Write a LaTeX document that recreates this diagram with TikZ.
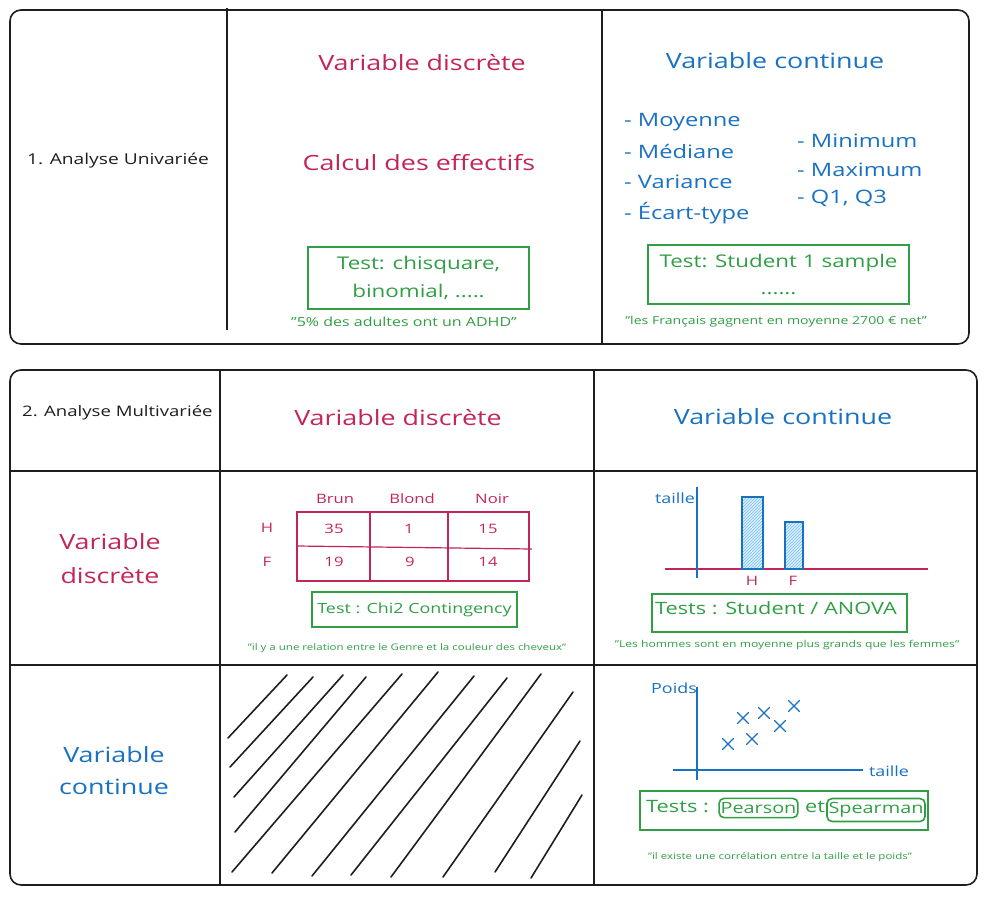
\documentclass[tikz,border=0pt]{standalone}
\usepackage{fontspec}
\setmainfont[FakeStretch=1.28]{Open Sans}
\usetikzlibrary{patterns}
\definecolor{crimson}{HTML}{C2255C}
\definecolor{skyblue}{HTML}{1971C2}
\definecolor{leaf}{HTML}{2F9E44}
\definecolor{barfill}{HTML}{74C0FC}
\definecolor{ink}{HTML}{1E1E1E}
\begin{document}
\begin{tikzpicture}[x=1pt,y=-1pt,
  frame/.style={draw=ink, line width=1.6pt, rounded corners=11pt},
  rule/.style={draw=ink, line width=1.6pt},
  hatchline/.style={draw=ink, line width=1.6pt, line cap=round},
  txt/.style={inner sep=0pt},
  head/.style={txt, font=\fontsize{21}{25}\selectfont},
  item/.style={txt, anchor=west, text=skyblue, font=\fontsize{18.5}{24}\selectfont},
  small/.style={txt, text=ink, font=\fontsize{15}{18}\selectfont},
  testbox/.style={draw=leaf, line width=1.2pt, text=leaf, align=center, inner sep=0pt},
  quote/.style={txt, text=leaf},
  cell/.style={txt, text=crimson, font=\fontsize{13}{16}\selectfont},
  pill/.style={draw=leaf, line width=1.6pt, rounded corners=5pt, text=leaf, inner xsep=1.5pt, inner ysep=4pt, font=\fontsize{15.5}{19}\selectfont},
  cross/.style={draw=skyblue, line width=1.3pt, line cap=round},
  axis/.style={draw=skyblue, line width=1.3pt}]
\useasboundingbox (0,0) rectangle (996,908);

% ---------- 1. univariate analysis ----------
\draw[frame] (10,10) rectangle (969,344);
\draw[rule] (227,8) -- (227,330);
\draw[rule] (602,10) -- (602,344);

\node[small] (uni) at (118,161) {1. Analyse Univariée};

\node[head, text=crimson] (udisc) at (422,63) {Variable discrète};
\node[head, text=crimson] (ueff) at (419,163) {Calcul des effectifs};
\node[testbox, minimum width=221, minimum height=62, font=\fontsize{17.5}{28}\selectfont] (utest1) at (418.5,278) {Test: chisquare,\\binomial, .....};
\node[quote, font=\fontsize{12.5}{15}\selectfont] (uq1) at (404,322) {"5\% des adultes ont un ADHD"};

\node[head, text=skyblue] (ucont) at (775,61) {Variable continue};
\node[item] (moy) at (624,122) {- Moyenne};
\node[item] (med) at (624,151) {- Médiane};
\node[item] (var) at (624,182) {- Variance};
\node[item] (ect) at (624,213) {- Écart-type};
\node[item] (min) at (797,141) {- Minimum};
\node[item] (max) at (797,170) {- Maximum};
\node[item] (qrt) at (797,198) {- Q1, Q3};
\node[testbox, minimum width=261, minimum height=59, font=\fontsize{17.5}{27}\selectfont] (utest2) at (778.5,274.5) {Test: Student 1 sample\\......};
\node[quote, font=\fontsize{11}{13}\selectfont] (uq2) at (776,322) {"les Français gagnent en moyenne 2700 € net"};

% ---------- 2. multivariate analysis ----------
\draw[frame] (10,370) rectangle (977,885);
\draw[rule] (10,471) -- (977,471);
\draw[rule] (10,665) -- (977,665);
\draw[rule] (220,370) -- (220,885);
\draw[rule] (594,370) -- (594,885);

\node[small, anchor=west, font=\fontsize{14.5}{17}\selectfont] (multi) at (22,413) {2. Analyse Multivariée};
\node[head, text=crimson] (mdisc) at (398,418) {Variable discrète};
\node[head, text=skyblue] (mcont) at (783,417) {Variable continue};
\node[head, text=crimson, align=center, font=\fontsize{21}{34}\selectfont] (rdisc) at (110,559) {Variable\\discrète};
\node[head, text=skyblue, align=center, font=\fontsize{21}{32}\selectfont] (rcont) at (114,771) {Variable\\continue};

% contingency table
\draw[draw=crimson, line width=1.2pt] (297,512) rectangle (529,581);
\draw[draw=crimson, line width=1.2pt] (370,512) -- (370,581);
\draw[draw=crimson, line width=1.2pt] (448,512) -- (448,581);
\draw[draw=crimson, line width=1.2pt] (297,546) -- (532,549);
\node[cell] (cbrun) at (335,499) {Brun};
\node[cell] (cblond) at (412,499) {Blond};
\node[cell] (cnoir) at (492,499) {Noir};
\node[cell] (rh) at (267,528) {H};
\node[cell] (rf) at (267,562) {F};
\node[cell] (v11) at (334,529) {35};
\node[cell] (v12) at (409,529) {1};
\node[cell] (v13) at (488,529) {15};
\node[cell] (v21) at (334,562) {19};
\node[cell] (v22) at (410,562) {9};
\node[cell] (v23) at (488,562) {14};
\node[testbox, minimum width=205, minimum height=35, font=\fontsize{14}{17}\selectfont] (mtest1) at (414.5,609.5) {Test : Chi2 Contingency};
\node[quote, font=\fontsize{9}{11}\selectfont] (mq1) at (407,648) {"il y a une relation entre le Genre et la couleur des cheveux"};

% bar chart
\draw[draw=crimson, line width=1.3pt] (665,569) -- (928,569);
\draw[axis] (697,487) -- (697,578);
\node[txt, text=skyblue, font=\fontsize{14}{17}\selectfont] (ytaille) at (675,498) {taille};
\draw[axis, fill=barfill!25, line width=1.2pt] (742,497) rectangle (763,569);
\fill[pattern=north east lines, pattern color=barfill] (742,497) rectangle (763,569);
\draw[axis, line width=1.2pt] (742,497) rectangle (763,569);
\draw[axis, fill=barfill!25, line width=1.2pt] (785,522) rectangle (803,569);
\fill[pattern=north east lines, pattern color=barfill] (785,522) rectangle (803,569);
\draw[axis, line width=1.2pt] (785,522) rectangle (803,569);
\node[cell] (bh) at (752,581) {H};
\node[cell] (bf) at (793,581) {F};
\node[testbox, minimum width=255, minimum height=38] (mtest2) at (779.5,613) {};
\node[txt, text=leaf, font=\fontsize{17}{20}\selectfont] (mtest2t) at (776,608) {Tests : Student / ANOVA};
\node[quote, font=\fontsize{9.5}{11}\selectfont] (mq2) at (787,645) {"Les hommes sont en moyenne plus grands que les femmes"};

% unavailable combination
\draw[hatchline] (228,738) -- (287,675);
\draw[hatchline] (230,767) -- (313,677);
\draw[hatchline] (234,797) -- (343,675);
\draw[hatchline] (235,832) -- (366,677);
\draw[hatchline] (232,872) -- (402,674);
\draw[hatchline] (272,873) -- (438,672);
\draw[hatchline] (312,876) -- (474,676);
\draw[hatchline] (351,875) -- (507,678);
\draw[hatchline] (391,877) -- (541,674);
\draw[hatchline] (443,877) -- (573,692);
\draw[hatchline] (495,872) -- (580,741);
\draw[hatchline] (531,878) -- (582,795);

% scatter plot
\draw[axis] (697,687) -- (697,780);
\draw[axis] (673,770) -- (863,770);
\node[txt, text=skyblue, font=\fontsize{14}{17}\selectfont] (ypoids) at (674,688) {Poids};
\node[txt, text=skyblue, font=\fontsize{14}{17}\selectfont] (xtaille) at (889,771) {taille};
\foreach \px/\py in {728/744, 743/718, 752/739, 764/713, 780/726, 794/706}
  \draw[cross] (\px-5.5,\py-5.5) -- (\px+5.5,\py+5.5) (\px-5.5,\py+5.5) -- (\px+5.5,\py-5.5);
\node[testbox, minimum width=288, minimum height=39] (mtest3) at (784,810.5) {};
\node[txt, text=leaf, anchor=west, font=\fontsize{17}{20}\selectfont] (tsts) at (646,807) {Tests :};
\node[pill] (pear) at (758.5,808) {Pearson};
\node[txt, text=leaf, font=\fontsize{17}{20}\selectfont] (etw) at (815,807) {et};
\node[pill] (spear) at (876,810) {Spearman};
\node[quote, font=\fontsize{9}{11}\selectfont] (mq3) at (780,857) {"il existe une corrélation entre la taille et le poids"};
\end{tikzpicture}
\end{document}
